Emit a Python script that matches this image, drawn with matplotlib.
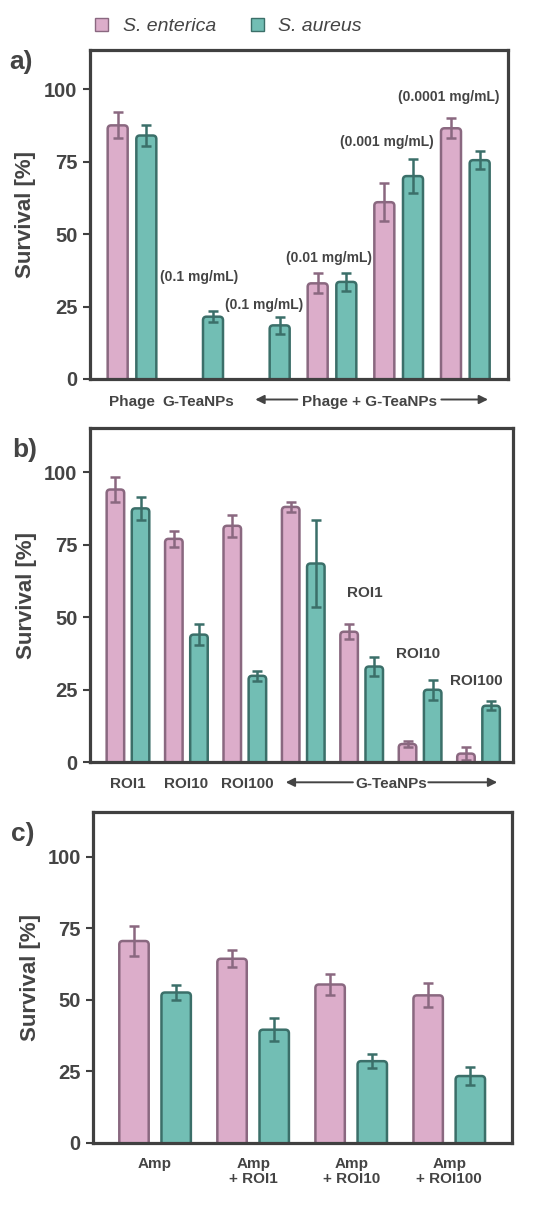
import numpy as np
import matplotlib
matplotlib.use('Agg')
import matplotlib.pyplot as plt
from matplotlib.patches import FancyBboxPatch, Patch
import matplotlib.transforms as mtransforms

plt.rcParams['font.family'] = ['Liberation Sans', 'DejaVu Sans']

PINK_FILL, PINK_EDGE = '#DCADCA', '#8A6880'
TEAL_FILL, TEAL_EDGE = '#72BEB4', '#3B6F69'
TXT = '#444444'
SPINE = '#404040'

# ---------------- data ----------------
series_names = ['S. enterica', 'S. aureus']

# panel a
a_enterica = [87.5, np.nan, np.nan, 33.0, 61.0, 86.5]
a_enterica_err = [4.5, np.nan, np.nan, 3.5, 6.5, 3.5]
a_aureus = [84.0, 21.5, 18.5, 33.5, 70.0, 75.5]
a_aureus_err = [3.5, 2.0, 3.0, 3.0, 6.0, 3.0]
a_ticks = ['Phage', 'G-TeaNPs']
a_span_label = 'Phage + G-TeaNPs'
a_notes = ['(0.1 mg/mL)', '(0.1 mg/mL)', '(0.01 mg/mL)', '(0.001 mg/mL)', '(0.0001 mg/mL)']

# panel b
b_enterica = [94.0, 77.0, 81.5, 88.0, 45.0, 6.3, 3.0]
b_enterica_err = [4.3, 2.7, 3.7, 1.8, 2.6, 0.9, 2.3]
b_aureus = [87.5, 44.0, 29.8, 68.5, 33.0, 25.0, 19.5]
b_aureus_err = [4.0, 3.7, 1.8, 15.0, 3.3, 3.5, 1.5]
b_ticks = ['ROI1', 'ROI10', 'ROI100']
b_span_label = 'G-TeaNPs'
b_notes = ['ROI1', 'ROI10', 'ROI100']

# panel c
c_enterica = [70.5, 64.3, 55.3, 51.5]
c_enterica_err = [5.3, 3.0, 3.5, 4.2]
c_aureus = [52.5, 39.5, 28.5, 23.3]
c_aureus_err = [2.5, 4.0, 2.5, 3.0]
c_ticks = ['Amp', 'Amp\n+ ROI1', 'Amp\n+ ROI10', 'Amp\n+ ROI100']

yticks = [0, 25, 50, 75, 100]

W, H = 546, 1208
fig = plt.figure(figsize=(W / 100, H / 100), dpi=100)


def px_axes(left, top, right, bottom):
    return fig.add_axes([left / W, 1 - bottom / H, (right - left) / W, (bottom - top) / H])


def round_bars(ax, bars, r_px=3.5):
    p0 = ax.transData.transform((0, 0))
    p1 = ax.transData.transform((1, 1))
    ppx, ppy = p1[0] - p0[0], p1[1] - p0[1]
    rs = r_px / ppx
    asp = ppx / ppy
    ext = 3 * r_px / ppy
    for rect in list(bars):
        h = rect.get_height()
        if not np.isfinite(h):
            rect.remove()
            continue
        fb = FancyBboxPatch((rect.get_x(), -ext), rect.get_width(), h + ext,
                            boxstyle=f'round,pad=0,rounding_size={rs}',
                            mutation_aspect=asp,
                            fc=rect.get_facecolor(), ec=rect.get_edgecolor(),
                            lw=rect.get_linewidth(), joinstyle='round', zorder=1)
        ax.add_patch(fb)
        rect.remove()


def panel(ax, ent, ent_err, aur, aur_err, xlim, ylim, label_x, label_y_px):
    n = len(ent)
    x = np.arange(n)
    off, w = 0.215, 0.30
    ax.set_xlim(*xlim)
    ax.set_ylim(0, ylim)
    b1 = ax.bar(x - off, ent, w, color=PINK_FILL, edgecolor=PINK_EDGE, linewidth=1.8)
    b2 = ax.bar(x + off, aur, w, color=TEAL_FILL, edgecolor=TEAL_EDGE, linewidth=1.8)
    round_bars(ax, b1)
    round_bars(ax, b2)
    ax.errorbar(x - off, ent, yerr=ent_err, fmt='none', ecolor=PINK_EDGE,
                elinewidth=1.8, capsize=3.6, capthick=1.8, zorder=3)
    ax.errorbar(x + off, aur, yerr=aur_err, fmt='none', ecolor=TEAL_EDGE,
                elinewidth=1.8, capsize=3.6, capthick=1.8, zorder=3)
    for s in ax.spines.values():
        s.set_linewidth(2.3)
        s.set_color(SPINE)
        s.set_zorder(4)
    ax.set_yticks(yticks)
    ax.set_yticklabels([str(t) for t in yticks], fontsize=14.5, fontweight='bold', color=TXT)
    ax.tick_params(axis='y', length=5, width=1.5, color=SPINE, pad=4)
    ax.set_xticks([])
    ax.set_ylabel('Survival [%]', fontsize=16, fontweight='bold', color=TXT, va='center')
    ax.yaxis.set_label_coords(label_x, 0.5)
    return x


def under(ax, px_below):
    # blended transform: x in data, y in pixels below the bottom spine
    return mtransforms.blended_transform_factory(ax.transData, ax.transAxes) + \
        mtransforms.ScaledTranslation(0, -px_below / 100, fig.dpi_scale_trans)


def arrow(ax, x0, x1, px_below):
    tr = under(ax, px_below)
    ax.annotate('', xy=(x1, 0), xytext=(x0, 0), xycoords=tr, textcoords=tr,
                annotation_clip=False,
                arrowprops=dict(arrowstyle='-|>', lw=1.4, color=TXT,
                                mutation_scale=13, shrinkA=0, shrinkB=0))


tick_kw = dict(fontsize=11, fontweight='bold', color=TXT, ha='center', va='top')

# ---------------- panel a ----------------
axa = px_axes(90, 50, 508, 379)
xa = panel(axa, a_enterica, a_enterica_err, a_aureus, a_aureus_err,
           (-0.63, 5.64), 113.5, -0.155, 0)
for xi, lab in zip(xa[:2], a_ticks):
    axa.text(xi, 0, lab, transform=under(axa, 16), **tick_kw)
axa.text(3.57, 0, a_span_label, transform=under(axa, 16), **tick_kw)
arrow(axa, 2.48, 1.85, 20.5)
arrow(axa, 4.64, 5.34, 20.5)
note_pos_a = [(1.0, 35.3), (1.98, 25.5), (2.95, 41.8), (3.82, 81.9), (4.75, 97.2)]
for (nx, ny), t in zip(note_pos_a, a_notes):
    axa.text(nx, ny, t, fontsize=10, fontweight='bold', color=TXT, ha='center', va='center')

# ---------------- panel b ----------------
axb = px_axes(90, 428, 513, 762.3)
xb = panel(axb, b_enterica, b_enterica_err, b_aureus, b_aureus_err,
           (-0.65, 6.59), 115.2, -0.149, 0)
tick_pos_b = [0, 1, 2.04]
for xi, lab in zip(tick_pos_b, b_ticks):
    axb.text(xi, 0, lab, transform=under(axb, 14.5), **tick_kw)
axb.text(4.5, 0, b_span_label, transform=under(axb, 14.5), **tick_kw)
arrow(axb, 3.85, 2.7, 20)
arrow(axb, 5.14, 6.32, 20)
note_pos_b = [(4.06, 58.5), (4.97, 37.3), (5.96, 28.0)]
for (nx, ny), t in zip(note_pos_b, b_notes):
    axb.text(nx, ny, t, fontsize=11, fontweight='bold', color=TXT, ha='center', va='center')

# ---------------- panel c ----------------
axc = px_axes(93.3, 811.7, 512, 1142.7)
xc = panel(axc, c_enterica, c_enterica_err, c_aureus, c_aureus_err,
           (-0.63, 3.64), 115.7, -0.149, 0)
for xi, lab in zip(xc, c_ticks):
    axc.text(xi, 0, lab, transform=under(axc, 14), linespacing=1.1, **tick_kw)

# ---------------- panel letters ----------------
for lab, xp, yp in [('a)', 9, 62), ('b)', 12, 450), ('c)', 11, 834)]:
    fig.text(xp / W, 1 - yp / H, lab, fontsize=19, fontweight='bold', color=TXT,
             ha='left', va='center')

# ---------------- legend ----------------
handles = [Patch(facecolor=PINK_FILL, edgecolor=PINK_EDGE, lw=1.0),
           Patch(facecolor=TEAL_FILL, edgecolor=TEAL_EDGE, lw=1.0)]
leg = fig.legend(handles, series_names, loc='center', bbox_to_anchor=(0.4185, 1 - 26.5 / H),
                 ncol=2, frameon=False, handlelength=0.67, handleheight=0.67,
                 handletextpad=0.75, columnspacing=1.8,
                 prop=dict(size=14, style='italic'))
for t in leg.get_texts():
    t.set_color(TXT)

fig.savefig('out.png', dpi=100)
